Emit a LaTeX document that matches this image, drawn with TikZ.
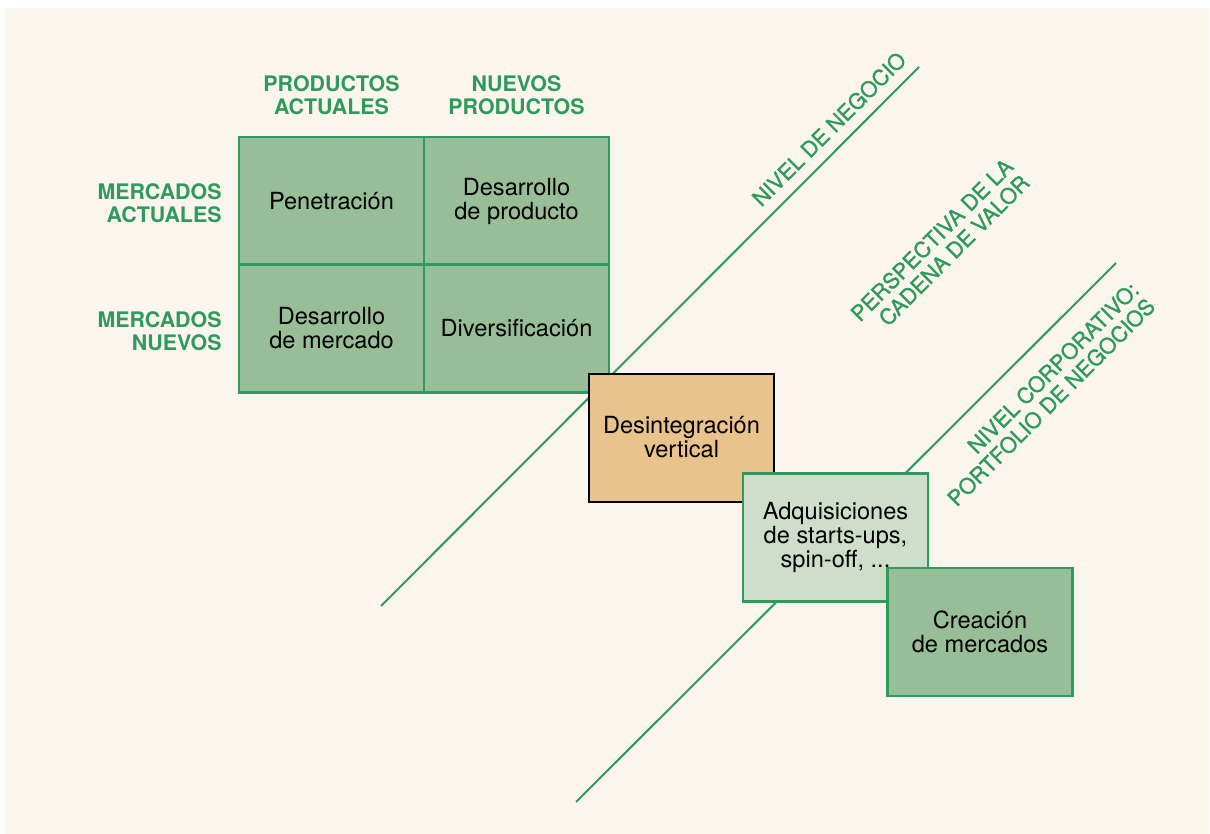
\documentclass[tikz,border=0pt]{standalone}
\usepackage{fontspec}
\setmainfont{TeX Gyre Heros}
\newfontfamily\medfont[FakeBold=1.2]{TeX Gyre Heros}
\usetikzlibrary{positioning}
\definecolor{cream}{RGB}{252,245,238}
\definecolor{leaf}{RGB}{46,154,92}
\definecolor{sage}{RGB}{152,190,152}
\definecolor{mint}{RGB}{207,222,203}
\definecolor{sand}{RGB}{232,196,140}

\begin{document}
\begin{tikzpicture}[x=0.5pt,y=-0.5pt,
  cell/.style={draw=leaf,line width=1.2pt,fill=sage,minimum width=92.5pt,minimum height=64pt,
    inner sep=0pt,outer sep=0pt,align=center,font=\fontsize{11.8}{12}\selectfont},
  head/.style={text=leaf,inner sep=0pt,font=\bfseries\fontsize{10.7}{11.5}\selectfont},
  tag/.style={text=leaf,inner sep=0pt,rotate=45,align=right,font=\medfont\fontsize{10.8}{11.5}\selectfont},
  level/.style={draw=leaf,line width=1pt}]
\useasboundingbox (0,0) rectangle (1210,834);
\fill[cream] (5,8) rectangle (1209,834);
%levels
\coordinate (n1a) at (381,606);
\coordinate (n1b) at (919,67);
\coordinate (n2a) at (576,802);
\coordinate (n2b) at (1116,263);
\draw[level] (n1a) -- (n1b);
\draw[level] (n2a) -- (n2b);
\node[tag] (negocio) at (829,129) {NIVEL DE NEGOCIO};
\node[tag] (cadena) at (940,248) {PERSPECTIVA DE LA\\CADENA DE VALOR};
\node[tag] (corp) at (1043,394) {NIVEL CORPORATIVO:\\PORTFOLIO DE NEGOCIOS};
%matrix
\node[cell] (pen) at (331.5,201) {Penetración};
\node[cell] (desprod) at (516.5,201) {Desarrollo\\de producto};
\node[cell] (desmerc) at (331.5,328.5) {Desarrollo\\de mercado};
\node[cell] (divers) at (516.5,328.5) {Diversificación};
\node[head,align=center] (prodact) at (331.5,95) {PRODUCTOS\\ACTUALES};
\node[head,align=center] (prodnue) at (516.5,95) {NUEVOS\\PRODUCTOS};
\node[head,align=right,anchor=east] (meract) at (222,203) {MERCADOS\\ACTUALES};
\node[head,align=right,anchor=east] (mernue) at (222,331.5) {MERCADOS\\NUEVOS};
%steps
\node[cell,draw=black,line width=1pt,fill=sand] (desint) at (681.5,437.5) {Desintegración\\vertical};
\node[cell,fill=mint] (adq) at (835.5,537.5) {Adquisiciones\\de starts-ups,\\spin-off, ...};
\node[cell] (crea) at (980,632) {Creación\\de mercados};
\end{tikzpicture}
\end{document}
